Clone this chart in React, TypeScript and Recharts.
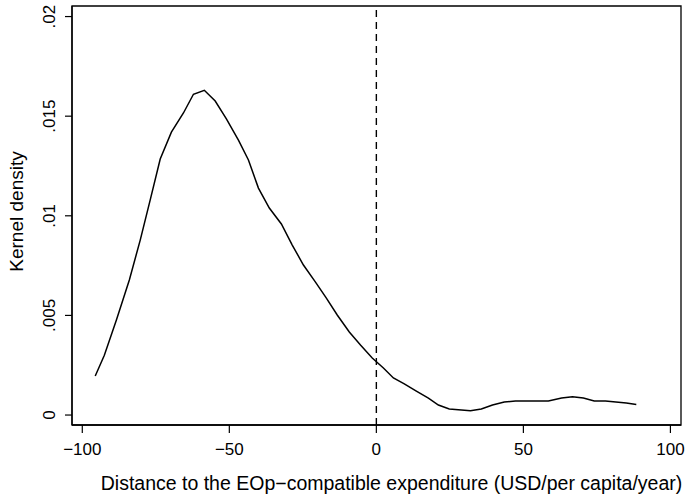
import React from "react";
import {
  LineChart,
  Line,
  XAxis,
  YAxis,
  ReferenceLine,
  ReferenceArea,
  Label,
} from "recharts";

// distance to the EOp-compatible expenditure (USD/per capita/year)
const distance = [
  -95.6, -92.5, -88.4, -84, -80.3, -76.9, -73.5, -69.7, -65.6, -62.2, -58.5,
  -54.8, -51, -46.9, -43.5, -40.1, -36.4, -32.3, -28.6, -24.8, -20.7, -17,
  -13.3, -9.2, -5.4, -1.4, 2.4, 5.8, 9.5, 13.6, 17.7, 21.1, 24.8, 32, 35.7,
  39.5, 43.5, 47.3, 58.5, 63, 66.7, 70.4, 74.1, 77.9, 85, 88.4,
];
const density = [
  0.00196, 0.003, 0.00477, 0.00678, 0.00878, 0.0108, 0.01285, 0.0142, 0.01516,
  0.0161, 0.0163, 0.01576, 0.01486, 0.0138, 0.0128, 0.01139, 0.01039, 0.00959,
  0.00853, 0.00753, 0.00667, 0.00587, 0.00502, 0.00417, 0.00351, 0.00286,
  0.00236, 0.00186, 0.00156, 0.0012, 0.00085, 0.0005, 0.0003, 0.00022, 0.0003,
  0.0005, 0.00065, 0.0007, 0.0007, 0.00085, 0.00092, 0.00085, 0.0007, 0.0007,
  0.0006, 0.00053,
];

const xTicks = [-100, -50, 0, 50, 100];
const yTicks = [0, 0.005, 0.01, 0.015, 0.02];
const yTickLabels = ["0", ".005", ".01", ".015", ".02"];

const xDomain: [number, number] = [-103.5, 103.6];
const yDomain: [number, number] = [-0.0005, 0.02053];

const data = distance.map((x, i) => ({ x, y: density[i] }));

const FONT = "'Liberation Sans', Arial, Helvetica, sans-serif";

function YTick({ x, y, payload }: any) {
  const i = yTicks.indexOf(payload.value);
  return (
    <text
      x={x}
      y={y}
      transform={`rotate(-90, ${x}, ${y})`}
      textAnchor="middle"
      fontSize={17}
      fontFamily={FONT}
      fill="#000"
    >
      {i >= 0 ? yTickLabels[i] : payload.value}
    </text>
  );
}

function YTitle({ viewBox }: any) {
  const cx = viewBox.x + 23;
  const cy = viewBox.y + viewBox.height / 2 - 4;
  return (
    <text
      x={cx}
      y={cy}
      transform={`rotate(-90, ${cx}, ${cy})`}
      textAnchor="middle"
      fontSize={19}
      fontFamily={FONT}
      fill="#000"
    >
      Kernel density
    </text>
  );
}

function XTitle({ viewBox }: any) {
  const cx = viewBox.x + viewBox.width / 2 + 15;
  const cy = viewBox.y + viewBox.height - 6;
  return (
    <text x={cx} y={cy} textAnchor="middle" fontSize={19.5} fontFamily={FONT} fill="#000">
      Distance to the EOp−compatible expenditure (USD/per capita/year)
    </text>
  );
}

export default function App() {
  return (
    <div style={{ position: "absolute", left: 0, top: 0, background: "#fff" }}>
      <LineChart
        width={685}
        height={496}
        data={data}
        margin={{ top: 6, right: 4, bottom: 0, left: 0 }}
      >
        <XAxis
          dataKey="x"
          type="number"
          domain={xDomain}
          ticks={xTicks}
          allowDataOverflow
          height={71}
          tickSize={8}
          tickMargin={10}
          tickFormatter={(v: number) => (v < 0 ? `−${Math.abs(v)}` : `${v}`)}
          tick={{ fontSize: 17, fontFamily: FONT, fill: "#000" }}
          axisLine={{ stroke: "#000", strokeWidth: 1.3 }}
          tickLine={{ stroke: "#000", strokeWidth: 1.2 }}
        >
          <Label content={<XTitle />} />
        </XAxis>
        <YAxis
          type="number"
          domain={yDomain}
          ticks={yTicks}
          allowDataOverflow
          width={72}
          tickSize={7}
          tickMargin={10}
          tick={<YTick />}
          axisLine={{ stroke: "#000", strokeWidth: 1.3 }}
          tickLine={{ stroke: "#000", strokeWidth: 1.2 }}
        >
          <Label content={<YTitle />} />
        </YAxis>
        <ReferenceArea
          x1={xDomain[0]}
          x2={xDomain[1]}
          y1={yDomain[0]}
          y2={yDomain[1]}
          fill="none"
          stroke="#000"
          strokeWidth={1.3}
        />
        <ReferenceLine x={0} stroke="#000" strokeWidth={1.4} strokeDasharray="7 5" />
        <Line
          type="linear"
          dataKey="y"
          stroke="#000"
          strokeWidth={1.5}
          dot={false}
          isAnimationActive={false}
        />
      </LineChart>
    </div>
  );
}
